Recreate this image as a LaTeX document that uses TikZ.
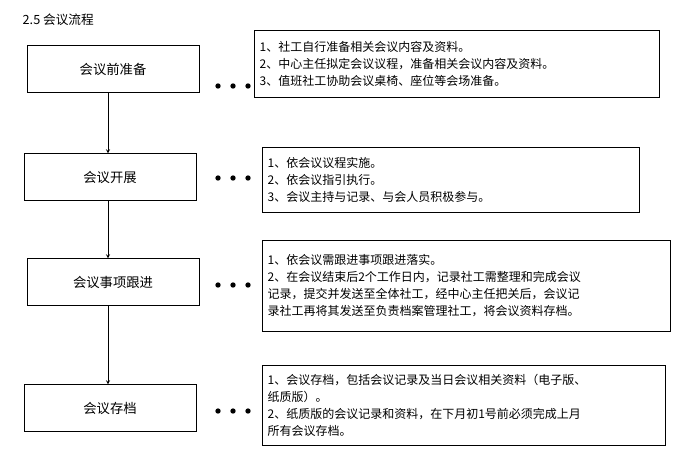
\documentclass[tikz,border=0pt]{standalone}
\usepackage{fontspec}
\newfontfamily\cjk{Noto Sans CJK SC}
\usetikzlibrary{positioning}
\tikzset{
  stepbox/.style={draw, minimum width=129pt, minimum height=35pt, font=\cjk\fontsize{10}{12}\selectfont},
  notebox/.style={draw, anchor=north west, align=left, inner sep=4pt, font=\cjk\fontsize{9}{12.8}\selectfont},
}
\begin{document}
\begin{tikzpicture}[x=0.75pt, y=-0.75pt]
  \useasboundingbox (0,0) rectangle (695,460);
  \node[anchor=west, font=\cjk\fontsize{9.5}{12}\selectfont] (title) at (18,20) {2.5 会议流程};

  % flow boxes
  \node[stepbox] (prep) at (113,69) {会议前准备};
  \node[stepbox] (run) at (110,177) {会议开展};
  \node[stepbox] (follow) at (113,282) {会议事项跟进};
  \node[stepbox] (archive) at (110,408) {会议存档};

  % notes
  \node[notebox, text width=296pt, minimum height=50pt] (n1) at (254,30)
    {1、社工自行准备相关会议内容及资料。\\2、中心主任拟定会议议程，准备相关会议内容及资料。\\3、值班社工协助会议桌椅、座位等会场准备。};
  \node[notebox, text width=275pt, minimum height=49pt] (n2) at (262,147)
    {1、依会议议程实施。\\2、依会议指引执行。\\3、会议主持与记录、与会人员积极参与。};
  \node[notebox, text width=298pt, minimum height=68pt] (n3) at (262,240)
    {1、依会议需跟进事项跟进落实。\\2、在会议结束后2个工作日内，记录社工需整理和完成会议\\记录，提交并发送至全体社工，经中心主任把关后，会议记\\录社工再将其发送至负责档案管理社工，将会议资料存档。};
  \node[notebox, text width=294pt, minimum height=60pt] (n4) at (262,365)
    {1、会议存档，包括会议记录及当日会议相关资料（电子版、\\纸质版）。\\2、纸质版的会议记录和资料，在下月初1号前必须完成上月\\所有会议存档。};

  % arrows
  \draw[-stealth] (prep.south -| 108,0) -- (run.north -| 108,0);
  \draw[-stealth] (run.south -| 108,0) -- (follow.north -| 108,0);
  \draw[-stealth] (follow.south -| 108,0) -- (archive.north -| 108,0);

  % dots
  \foreach \y in {86,178,285,411}
    \foreach \x in {218,233,248}
      \fill (\x,\y) circle [radius=2pt];
\end{tikzpicture}
\end{document}
